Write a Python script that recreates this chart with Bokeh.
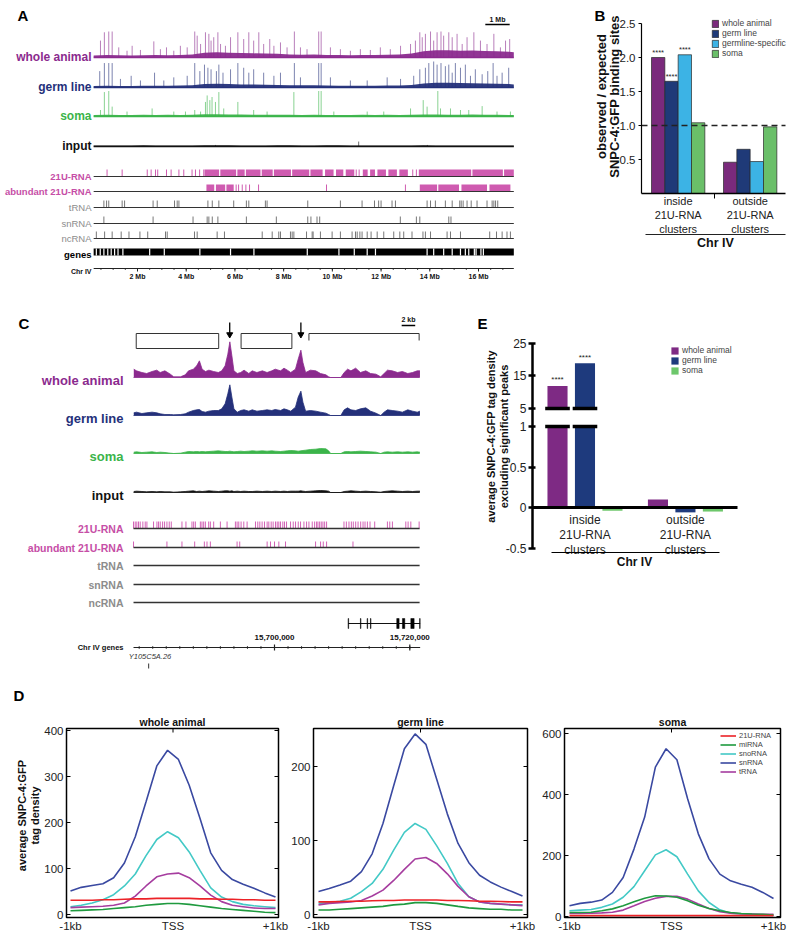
import numpy as np
from bokeh.plotting import figure
from bokeh.layouts import column, row
from bokeh.models import (Range1d, LinearAxis, FixedTicker, Legend, LegendItem,
                          NumeralTickFormatter)
from bokeh.core.properties import value
from bokeh.embed import file_html
from bokeh.resources import INLINE

FONT = "Liberation Sans"
VF = value(FONT)
VERT = np.pi / 2

# ---------------- colours ----------------
COL_WA, COL_GL, COL_SO, COL_IN = "#8b2a8e", "#24307a", "#3bb44a", "#111111"
COL_21U, COL_GRAY = "#c64ea6", "#8c8c8c"

# =====================================================================
# DATA
# =====================================================================
# ---- Panel A : Chr IV genome browser (positions in Mb, signal in % of track max)
A_CHR_START, A_CHR_END = 0.2, 17.45
A_TICKS_MB = [2, 4, 6, 8, 10, 12, 14, 16]
a_bg_mb = [0.2, 0.75, 1.25, 1.75, 2.25, 2.75, 3.25, 3.75, 4.25, 4.75, 5.25, 5.75, 6.25, 6.75,
           7.25, 7.75, 8.25, 8.75, 9.25, 9.75, 10.25, 10.75, 11.25, 11.75, 12.25, 12.75, 13.25,
           13.75, 14.25, 14.75, 15.25, 15.75, 16.25, 16.75, 17.25, 17.45]
a_wa_bg = [8, 10, 9, 8, 9, 10, 9, 10, 12, 18, 20, 18, 17, 16, 15, 14, 12, 11, 12, 10, 10, 9, 10, 10,
           11, 12, 15, 24, 28, 28, 26, 27, 25, 24, 22, 20]
a_gl_bg = [6, 7, 6, 6, 7, 7, 7, 8, 9, 13, 14, 13, 12, 12, 11, 10, 9, 9, 9, 8, 7, 7, 7, 7, 8, 8, 10,
           15, 18, 18, 17, 16, 15, 14, 13, 12]
a_so_bg = [6, 7, 6, 6, 7, 6, 7, 6, 7, 9, 9, 8, 8, 7, 7, 7, 7, 6, 7, 6, 6, 6, 7, 6, 7, 6, 7, 8, 8, 7,
           7, 8, 7, 7, 6, 6]
a_in_bg = [4, 4, 4, 4, 5, 4, 4, 4, 4, 5, 5, 5, 4, 4, 4, 5, 5, 4, 4, 5, 5, 4, 4, 4, 4, 4, 4, 5, 4, 4,
           4, 4, 4, 4, 4, 4]
a_wa_pk_mb = [0.48, 0.64, 0.82, 0.96, 1.23, 1.57, 1.78, 2.12, 2.67, 2.94, 3.19, 3.49, 3.76, 4.04,
              4.35, 4.45, 4.59, 4.79, 4.93, 5.02, 5.13, 5.30, 5.41, 5.61, 5.82, 6.12, 6.36, 6.57,
              6.77, 6.98, 7.18, 7.43, 7.60, 7.87, 8.14, 8.44, 8.69, 8.96, 9.44, 9.54, 9.92, 10.33,
              10.74, 11.15, 11.56, 11.97, 12.38, 12.80, 13.21, 13.41, 13.59, 13.69, 13.82, 14.03,
              14.16, 14.30, 14.46, 14.57, 14.78, 14.92, 15.12, 15.33, 15.53, 15.81, 16.08, 16.35,
              16.63, 16.90, 17.11, 17.28]
a_wa_pk_h = [65, 97, 100, 100, 39, 26, 45, 29, 62, 32, 39, 26, 45, 39, 100, 84, 52, 97, 91, 65,
             78, 97, 52, 45, 78, 97, 71, 97, 65, 97, 52, 71, 45, 58, 39, 100, 39, 32, 100, 100,
             39, 32, 26, 32, 29, 39, 32, 45, 52, 65, 97, 78, 91, 100, 65, 97, 100, 84, 97, 78,
             91, 52, 78, 97, 65, 52, 91, 39, 65, 71]
a_gl_pk_mb = [0.45, 0.64, 0.82, 0.96, 1.30, 1.74, 2.12, 2.70, 3.08, 3.49, 4.04, 4.35, 4.56, 4.75,
              4.89, 5.02, 5.24, 5.34, 5.51, 5.82, 6.12, 6.36, 6.57, 6.77, 7.18, 7.60, 7.87, 8.44,
              8.69, 9.44, 9.54, 9.92, 10.74, 11.43, 12.25, 12.80, 13.34, 13.59, 13.82, 13.96,
              14.16, 14.30, 14.46, 14.64, 14.78, 14.92, 15.05, 15.26, 15.46, 15.67, 15.87, 16.15,
              16.38, 16.60, 16.76, 16.97, 17.24]
a_gl_pk_h = [63, 94, 94, 94, 33, 45, 27, 57, 27, 39, 45, 94, 63, 88, 76, 70, 63, 88, 57, 70,
             94, 76, 57, 70, 57, 45, 57, 94, 39, 94, 94, 39, 27, 27, 39, 33, 45, 70, 76, 94,
             100, 88, 94, 82, 88, 57, 94, 76, 88, 45, 70, 51, 63, 94, 45, 57, 76]
a_so_pk_mb = [0.48, 0.64, 0.82, 0.96, 1.57, 2.60, 3.49, 3.97, 4.35, 4.59, 4.79, 4.86, 4.97, 5.06,
              5.20, 5.34, 5.54, 6.12, 6.77, 7.32, 8.42, 9.44, 9.54, 10.06, 11.43, 12.11, 13.21,
              13.73, 13.89, 14.33, 14.44, 14.85, 15.26, 15.60, 16.15, 16.76, 17.31]
a_so_pk_h = [25, 94, 98, 38, 19, 31, 19, 19, 25, 19, 56, 81, 63, 75, 56, 94, 31, 56, 25, 19,
             94, 98, 98, 19, 19, 19, 31, 63, 38, 98, 31, 31, 25, 25, 40, 19, 19]
a_in_pk_mb = [5.20, 11.08, 13.90]
a_in_pk_h = [6, 19, 6]
a_u21_start = [4.75, 5.40, 6.10, 6.45, 7.10, 7.60, 8.35, 9.10, 9.70, 10.15, 10.55, 11.25, 11.55,
               11.85, 12.30, 12.75, 13.55, 15.75, 17.05]
a_u21_end = [5.35, 6.05, 6.40, 7.05, 7.55, 8.30, 9.05, 9.60, 10.05, 10.45, 10.90, 11.45, 11.75,
             12.20, 12.65, 13.10, 15.70, 17.00, 17.45]
a_u21_ticks = [0.75, 1.37, 2.40, 2.56, 2.74, 2.83, 3.19, 3.38, 3.70, 3.90, 4.24, 4.38, 4.55, 4.72,
               10.98, 11.10, 13.30, 13.45]
a_ab_start = [4.83, 5.22, 5.65, 13.59, 14.35, 15.30, 16.45]
a_ab_end = [5.15, 5.60, 5.95, 14.30, 15.20, 16.35, 17.31]
a_ab_ticks = [6.05, 6.15, 6.30, 6.45, 6.60, 6.97, 9.76, 13.00]
a_trna = [0.62, 0.73, 0.82, 1.37, 1.47, 2.64, 2.81, 3.52, 3.63, 3.70, 4.89, 5.07, 5.34, 5.95,
          6.47, 6.57, 7.25, 7.32, 8.99, 10.33, 11.22, 11.73, 11.90, 12.00, 12.45, 12.59, 13.89,
          14.03, 14.23, 14.64, 14.92, 15.23, 15.29, 15.37, 15.53, 15.70, 15.94, 16.35, 16.56,
          16.63, 16.70, 16.79]
a_snrna = [0.62, 2.64, 4.28, 4.86, 4.93, 5.07, 5.30, 6.47, 7.70, 8.99, 9.12, 9.37, 9.48, 12.79,
           13.45, 13.59, 14.78, 14.87]
a_ncrna = [0.31, 0.65, 0.96, 1.33, 1.65, 2.10, 2.42, 3.15, 3.22, 4.34, 4.45, 5.27, 5.57, 7.12,
           7.53, 7.80, 7.87, 8.28, 8.35, 8.42, 8.94, 9.17, 9.21, 9.51, 9.99, 10.33, 10.81, 10.95,
           11.02, 11.13, 11.22, 11.43, 11.59, 11.84, 12.11, 12.52, 12.77, 12.93, 13.27, 13.72,
           13.82, 14.03, 14.71, 14.85, 15.26, 16.46, 16.74, 16.97, 17.17, 17.31]
a_gene_gaps = [0.31, 0.47, 0.62, 0.78, 0.92, 1.06, 1.20, 1.40, 2.50, 3.10, 4.56, 5.82, 6.78, 8.97,
               10.27, 10.90, 11.43, 11.77, 13.89, 14.16, 14.57, 14.92, 15.26, 15.46, 15.60, 15.83,
               15.90, 16.10, 16.20]

# ---- Panel B : observed / expected binding sites
B_SERIES = ["whole animal", "germ line", "germline-specific", "soma"]
B_COLORS = ["#7a2a7c", "#1f3a78", "#3cb3e5", "#6abf69"]
B_GROUPS = ["inside\n21U-RNA\nclusters", "outside\n21U-RNA\nclusters"]
b_inside = [2.00, 1.65, 2.04, 1.04]
b_outside = [0.46, 0.65, 0.47, 0.98]
b_sig_inside = ["****", "****", "****", ""]
B_YTICKS = [0.5, 1.0, 1.5, 2.0, 2.5]
B_EXPECTED = 1.0
B_YLABEL = ["observed / expected", "SNPC-4:GFP binding sites"]

# ---- Panel C : zoom 15.68-15.72 Mb (positions in kb relative to 15,700,000)
C_ORIGIN = 15_700_000
C_START, C_END = -20.84, 21.45
c_pos_kb = [-20.8, -20.4, -19.6, -18.9, -18.1, -17.4, -16.9, -16.2, -15.4, -14.9,
            -13.9, -13.2, -12.7, -12.0, -11.5, -11.1, -10.7, -10.2, -9.7, -9.0,
            -8.3, -7.8, -7.3, -6.9, -6.6, -6.3, -6.0, -5.5, -5.0, -4.5,
            -3.8, -3.3, -2.6, -1.8, -1.1, -0.4, 0.1, 0.9, 1.4, 1.9,
            2.4, 3.1, 3.5, 3.9, 4.2, 4.6, 5.3, 6.1, 6.8, 7.6,
            8.0, 8.3, 9.8, 10.3, 10.8, 11.3, 12.0, 12.7, 13.5, 14.2,
            15.0, 15.7, 16.2, 16.7, 17.4, 18.2, 18.9, 19.7, 20.4, 21.1, 21.5]
c_wa = [25, 20, 15, 12, 18, 22, 15, 20, 10, 2, 2, 8, 20, 25, 35, 50, 25, 18, 22, 18,
        15, 20, 35, 70, 107, 65, 20, 12, 15, 22, 12, 20, 15, 20, 15, 20, 25, 20, 28, 22,
        15, 25, 55, 82, 45, 15, 22, 20, 12, 8, 2, 0, 0, 15, 25, 20, 28, 15, 20, 12,
        10, 2, 12, 22, 20, 15, 18, 12, 15, 20, 20]
c_gl = [8, 10, 6, 8, 10, 8, 5, 3, 3, 2, 3, 5, 10, 15, 17, 18, 12, 10, 13, 15,
        15, 20, 35, 65, 92, 55, 20, 10, 15, 17, 13, 17, 13, 15, 17, 15, 18, 15, 20, 17,
        13, 25, 55, 73, 40, 13, 15, 13, 10, 7, 3, 0, 0, 17, 23, 17, 15, 20, 23, 13,
        7, 0, 10, 17, 15, 13, 10, 17, 13, 10, 13]
c_so = [4, 5, 3, 4, 5, 3, 4, 3, 1, 0, 1, 4, 6, 5, 6, 5, 6, 5, 6, 7,
        8, 7, 6, 6, 7, 6, 5, 6, 7, 6, 7, 8, 7, 8, 7, 8, 7, 6, 7, 8,
        9, 8, 7, 8, 9, 10, 12, 13, 15, 14, 8, 0, 0, 5, 6, 5, 6, 7, 6, 5,
        4, 0, 4, 5, 4, 5, 4, 5, 4, 5, 4]
c_in = [3, 4, 3, 2, 3, 2, 3, 2, 2, 1, 2, 3, 4, 5, 3, 4, 3, 4, 5, 4,
        3, 4, 5, 5, 4, 5, 3, 4, 3, 4, 3, 3, 4, 3, 4, 3, 4, 3, 4, 3,
        4, 4, 4, 5, 4, 3, 4, 5, 6, 5, 4, 0, 0, 3, 4, 5, 4, 3, 4, 3,
        2, 1, 3, 4, 5, 4, 3, 4, 3, 4, 4]
c_u21 = [-20.84, -20.59, -20.35, -20.10, -19.85, -19.46, -19.11, -18.86, -17.88, -17.38, -17.14,
         -16.89, -16.54, -16.25, -15.90, -15.56, -15.26, -13.68, -13.09, -12.20, -11.95, -11.70,
         -10.96, -10.72, -10.47, -10.22, -9.73, -9.48, -8.99, -8.00, -7.01, -5.78, -5.53, -5.28,
         -4.94, -4.54, -4.05, -2.81, -2.47, -2.17, -1.83, -1.48, -1.09, -0.84, -0.49, -0.20,
         0.15, 0.40, 0.64, 0.89, 1.23, 1.48, 1.78, 2.37, 2.77, 3.11, 3.51, 3.85, 4.35, 4.74,
         5.09, 5.58, 5.93, 6.22, 6.42, 6.67, 6.91, 7.16, 7.41, 7.70, 10.27, 10.62, 11.01, 11.36,
         11.65, 12.00, 12.35, 12.74, 13.09, 13.38, 13.73, 14.12, 14.81, 16.69, 17.04, 17.43,
         19.41, 19.75, 20.15, 21.38]
c_ab = [-20.84, -15.90, -13.68, -11.80, -10.37, -9.98, -9.48, -5.53, -5.14, -1.09, -0.59, 0.00,
        0.64, 1.63, 6.07, 6.81, 7.21, 7.70, 11.60]
c_clu_start = [-20.44, -4.94]
c_clu_end = [-8.25, 2.57]
c_open_clu = (5.09, 21.38)
c_peaks_kb = [-6.62, 3.90]
c_gene_span = (10.91, 21.53)
c_exon_start = [10.88, 12.70, 13.69, 14.18, 18.07, 18.91, 20.15, 21.45]
c_exon_end = [10.96, 12.78, 13.77, 14.26, 18.42, 19.26, 20.64, 21.53]
c_gene2_name, c_gene2_kb = "Y105C5A.26", -18.6
C_TICKS_KB = [0, 20]

# ---- Panel D : metagene profiles around TSS
D_X = [-1000, -895, -789, -684, -579, -474, -368, -263, -158, -53, 53, 158, 263, 368, 474, 579,
       684, 789, 895, 1000]
D_SERIES = ["21U-RNA", "miRNA", "snoRNA", "snRNA", "tRNA"]
D_COLORS = ["#ec2227", "#1f9a3f", "#43c9c6", "#3a49a1", "#a63d9f"]
d_wa_21u = [31, 31, 31, 32, 32, 33, 34, 34, 35, 35, 35, 35, 34, 34, 33, 33, 32, 32, 31, 31]
d_wa_mirna = [8, 9, 10, 11, 13, 15, 17, 20, 22, 24, 24, 22, 19, 16, 13, 11, 9, 7, 5, 4]
d_wa_snorna = [17, 20, 25, 32, 43, 62, 88, 128, 163, 180, 167, 136, 96, 58, 38, 28, 22, 19, 17, 15]
d_wa_snrna = [51, 59, 63, 67, 80, 112, 169, 245, 323, 357, 337, 281, 209, 134, 96, 76, 66, 57, 47, 38]
d_wa_trna = [15, 16, 17, 18, 20, 25, 40, 62, 82, 88, 90, 80, 62, 42, 28, 20, 17, 14, 13, 13]
d_gl_21u = [17, 17, 17.5, 18, 18, 18.5, 19, 19, 19.5, 19.5, 19.5, 19.5, 19, 19, 18.5, 18, 18, 17.5, 17, 17]
d_gl_mirna = [6, 6, 7, 8, 9, 10, 11, 13, 14, 16, 16, 15, 13, 11, 9, 8, 7, 7, 6, 6]
d_gl_snorna = [15, 16, 18, 22, 31, 42, 61, 87, 111, 123, 115, 93, 69, 42, 24, 17, 15, 14, 13, 13]
d_gl_snrna = [31, 35, 40, 45, 58, 82, 123, 174, 224, 244, 230, 183, 136, 96, 70, 53, 44, 37, 31, 25]
d_gl_trna = [13, 15, 16, 17, 19, 25, 33, 46, 61, 75, 77, 69, 55, 38, 24, 17, 15, 14, 13, 12]
d_so_21u = [3, 3, 3, 3, 3, 3, 3, 3, 3, 3, 3, 3, 3, 3, 3, 3, 3, 3, 3, 3]
d_so_mirna = [13, 13, 14, 19, 25, 35, 48, 60, 68, 67, 63, 52, 37, 26, 19, 13, 10, 8, 7, 5]
d_so_snorna = [19, 21, 23, 30, 41, 63, 98, 150, 202, 219, 196, 139, 84, 46, 22, 11, 8, 7, 5, 4]
d_so_snrna = [35, 43, 47, 54, 79, 128, 221, 326, 490, 550, 514, 386, 271, 189, 139, 117, 106, 96, 79, 59]
d_so_trna = [10, 10, 11, 12, 14, 21, 35, 49, 60, 66, 66, 57, 41, 26, 16, 11, 9, 8, 7, 7]
D_XTICKS = [-1000, 0, 1000]
D_XLABELS = ["-1kb", "TSS", "+1kb"]
D_YLABEL = ["average SNPC-4:GFP", "tag density"]

# ---- Panel E : average tag density excluding significant peaks
E_SERIES = ["whole animal", "germ line", "soma"]
E_COLORS = ["#7e2a84", "#1e3a7d", "#6dc76b"]
E_GROUPS = ["inside\n21U-RNA\nclusters", "outside\n21U-RNA\nclusters"]
e_inside = [11.9, 18.9, -0.04]
e_outside = [0.10, -0.06, -0.05]
e_sig_inside = ["****", "****", ""]
E_YTICKS = [-0.5, 0, 0.5, 1, 5, 15, 25]
E_YLABEL = ["average SNPC-4:GFP tag density", "excluding significant peaks"]


# =====================================================================
# helpers
# =====================================================================
class PX:
    """Linear map between page pixels and a panel's data units (layout only)."""

    def __init__(self, ox, oy, w, h, xa, xb, ya, yb):
        self.ox, self.oy, self.w, self.h = ox, oy, w, h
        self.kx = (xb[1] - xa[1]) / (xb[0] - xa[0])
        self.x0 = xa[1] - self.kx * xa[0]
        self.ky = (yb[1] - ya[1]) / (yb[0] - ya[0])
        self.y0 = ya[1] - self.ky * ya[0]

    def x(self, px):
        return self.x0 + self.kx * px

    def y(self, py):
        return self.y0 + self.ky * py

    def dx(self, npx):
        return abs(self.kx) * npx

    def dy(self, npx):
        return abs(self.ky) * npx

    def fig(self):
        p = figure(width=self.w, height=self.h,
                   x_range=Range1d(self.x(self.ox), self.x(self.ox + self.w)),
                   y_range=Range1d(self.y(self.oy + self.h), self.y(self.oy)),
                   toolbar_location=None, output_backend="svg",
                   x_axis_location=None, y_axis_location=None,
                   min_border_left=0, min_border_right=0, min_border_top=0,
                   min_border_bottom=0)
        p.grid.visible = False
        p.outline_line_color = None
        p.background_fill_color = "white"
        p.border_fill_color = "white"
        return p


def txt(p, x, y, s, size, color="#000000", style="normal", align="left",
        baseline="middle", line_height=1.2, angle=0):
    xs = x if isinstance(x, list) else [x]
    ys = y if isinstance(y, list) else [y] * len(xs)
    ss = s if isinstance(s, list) else [s] * len(xs)
    p.text(x=xs, y=ys, text=ss, text_font=VF, text_font_size=size, text_font_style=style,
           text_color=color, text_align=align, text_baseline=baseline,
           text_line_height=line_height, angle=angle)


def style_axis(ax, size="11px", color="#222222"):
    ax.major_label_text_font = FONT
    ax.major_label_text_font_size = size
    ax.major_label_text_color = color
    ax.minor_tick_in = ax.minor_tick_out = 0


def style_legend(lg, size, gw, gh, loc):
    lg.location = loc
    lg.label_text_font = FONT
    lg.label_text_font_size = size
    lg.glyph_width, lg.glyph_height, lg.label_height = gw, gh, gh
    lg.spacing, lg.padding, lg.margin, lg.label_standoff = 0, 0, 0, 3
    lg.border_line_color = None
    lg.background_fill_alpha = 0


def letter(p, x, y, s):
    txt(p, x, y, s, "15px", "#000", "bold", "left", "middle")


def vlabel(p, m, xs_px, y_px, lines, size):
    txt(p, [m.x(x) for x in xs_px], m.y(y_px), lines, size, "#111", "bold", "center",
        "middle", angle=VERT)


# =====================================================================
# Panel A
# =====================================================================
mA = PX(0, 0, 583, 290, (137, 2), (478, 16), (0, 0), (290, 290))
pA = mA.fig()
A_SIG = 0.26                       # px per signal unit
A_LBL_X = mA.x(91)

tracks = [(57, a_wa_bg, a_wa_pk_mb, a_wa_pk_h, COL_WA, "whole animal"),
          (87, a_gl_bg, a_gl_pk_mb, a_gl_pk_h, COL_GL, "germ line"),
          (116, a_so_bg, a_so_pk_mb, a_so_pk_h, COL_SO, "soma"),
          (146, a_in_bg, a_in_pk_mb, a_in_pk_h, COL_IN, "input")]
for base, bg, pkx, pkh, col, name in tracks:
    pA.varea(x=a_bg_mb, y1=[base] * len(a_bg_mb), y2=[base - v * A_SIG for v in bg],
             fill_color=col, fill_alpha=0.95)
    pA.segment(x0=pkx, y0=[base] * len(pkx), x1=pkx, y1=[base - h * A_SIG for h in pkh],
               line_color=col, line_width=1, line_alpha=0.6)
    pA.segment(x0=[A_CHR_START], y0=[base], x1=[A_CHR_END], y1=[base], line_color=col,
               line_width=1.3)
    txt(pA, A_LBL_X, base - 1, name, "12px", col, "bold", "right", "alphabetic")


def a_row(y, color, starts=None, ends=None, ticks=None, label="", lcolor="#000",
          lstyle="normal"):
    if starts:
        pA.quad(left=starts, right=ends, bottom=[y] * len(starts), top=[y - 7] * len(starts),
                fill_color=color, line_color=None)
    if ticks:
        pA.segment(x0=ticks, y0=[y] * len(ticks), x1=ticks, y1=[y - 7] * len(ticks),
                   line_color=color, line_width=1)
    pA.segment(x0=[A_CHR_START], y0=[y], x1=[A_CHR_END], y1=[y], line_color="#333333",
               line_width=1.2)
    txt(pA, A_LBL_X, y, label, "9.5px", lcolor, lstyle, "right", "alphabetic")


a_row(176, "#cf5bb0", a_u21_start, a_u21_end, a_u21_ticks, "21U-RNA", COL_21U, "bold")
a_row(191, "#cf5bb0", a_ab_start, a_ab_end, a_ab_ticks, "abundant 21U-RNA", COL_21U, "bold")
a_row(207, "#777777", ticks=a_trna, label="tRNA", lcolor=COL_GRAY)
a_row(223, "#777777", ticks=a_snrna, label="snRNA", lcolor=COL_GRAY)
a_row(238, "#777777", ticks=a_ncrna, label="ncRNA", lcolor=COL_GRAY)
pA.quad(left=[A_CHR_START], right=[A_CHR_END], bottom=[255], top=[248], fill_color="black",
        line_color=None)
pA.segment(x0=a_gene_gaps, y0=[255] * len(a_gene_gaps), x1=a_gene_gaps,
           y1=[248] * len(a_gene_gaps), line_color="white", line_width=1.2)
txt(pA, A_LBL_X, 254, "genes", "9.5px", "#000", "bold", "right", "alphabetic")
A_AX_Y = 268
pA.segment(x0=[A_CHR_START], y0=[A_AX_Y], x1=[A_CHR_END], y1=[A_AX_Y], line_color="#222222",
           line_width=1)
a_minor = [m * 0.5 for m in range(1, 35)]
pA.segment(x0=a_minor, y0=[A_AX_Y] * len(a_minor), x1=a_minor, y1=[A_AX_Y + 1.5] * len(a_minor),
           line_color="#222222", line_width=0.8)
pA.segment(x0=A_TICKS_MB, y0=[A_AX_Y] * 8, x1=A_TICKS_MB, y1=[A_AX_Y + 3] * 8,
           line_color="#222222", line_width=1)
txt(pA, A_TICKS_MB, 276, [f"{t} Mb" for t in A_TICKS_MB], "7px", "#111", "bold", "center",
    "middle")
txt(pA, A_LBL_X, 271, "Chr IV", "7px", "#111", "bold", "right", "alphabetic")
pA.segment(x0=[16.28], y0=[24], x1=[17.28], y1=[24], line_color="black", line_width=1.5)
txt(pA, 16.78, 19, "1 Mb", "7px", "#111", "bold", "center", "middle")
letter(pA, mA.x(17), 15, "A")

# =====================================================================
# Panel B
# =====================================================================
mB = PX(583, 0, 216, 290, (641, 0), (785, 10.8), (193, 0), (23, 2.5))
pB = mB.fig()
B_GROUP_X0 = [1.25, 6.65]
for i, (name, col) in enumerate(zip(B_SERIES, B_COLORS)):
    xs = [B_GROUP_X0[0] + i, B_GROUP_X0[1] + i]
    pB.vbar(x=xs, top=[b_inside[i], b_outside[i]], bottom=0, width=1.0, fill_color=col,
            line_color="#2a2a2a", line_width=0.7, legend_label=name)
sig_x = [B_GROUP_X0[0] + i for i in range(4) if b_sig_inside[i]]
sig_y = [b_inside[i] + 0.01 for i in range(4) if b_sig_inside[i]]
txt(pB, sig_x, sig_y, "****", "7.5px", "#222", "normal", "center", "bottom")
pB.segment(x0=[0], y0=[B_EXPECTED], x1=[10.8], y1=[B_EXPECTED], line_color="#222222",
           line_dash="6 4", line_width=1.4)
yax = LinearAxis(fixed_location=0, ticker=FixedTicker(ticks=B_YTICKS),
                 formatter=NumeralTickFormatter(format="0.0"), bounds=(0, 2.5))
style_axis(yax, "11.5px")
yax.major_tick_in, yax.major_tick_out = 0, 3
yax.major_label_standoff = 3
yax.axis_line_width = 1.2
pB.add_layout(yax, "left")
vlabel(pB, mB, [601, 614], 96, B_YLABEL, "13px")
b_centers = [B_GROUP_X0[0] + 1.5, B_GROUP_X0[1] + 1.5]
xax1 = LinearAxis(fixed_location=0, bounds=(0, 10.8),
                  ticker=FixedTicker(ticks=b_centers, minor_ticks=[mB.x(714)]),
                  major_label_overrides={b_centers[0]: "", b_centers[1]: ""})
style_axis(xax1, "11px")
xax1.major_tick_in, xax1.major_tick_out = 0, 0
xax1.minor_tick_in, xax1.minor_tick_out = 0, 5
xax1.axis_line_width = 1.5
pB.add_layout(xax1, "below")
txt(pB, b_centers, mB.y(194), B_GROUPS, "11px", "#222", "normal", "center", "top", 1.2)
pB.segment(x0=[mB.x(645)], y0=[mB.y(234)], x1=[mB.x(785)], y1=[mB.y(234)], line_color="#222",
           line_width=1.2)
txt(pB, mB.x(715), mB.y(242), "Chr IV", "12.5px", "#111", "bold", "center", "middle")
style_legend(pB.legend[0], "8.5px", 8, 9, (711 - 583, 290 - 58))
letter(pB, mB.x(594), mB.y(15), "B")

# =====================================================================
# Panel C
# =====================================================================
mC = PX(0, 290, 455, 380, (274, 0), (409.3, 20), (290, 290), (670, 670))
pC = mC.fig()
C_SIG = 1 / 3
C_LBL_X = mC.x(123)
for base, vals, col, name in [(377, c_wa, COL_WA, "whole animal"), (415, c_gl, COL_GL, "germ line"),
                              (453, c_so, COL_SO, "soma"), (492, c_in, COL_IN, "input")]:
    top = [base - v * C_SIG for v in vals]
    pC.varea(x=c_pos_kb, y1=[base] * len(c_pos_kb), y2=top, fill_color=col)
    pC.line(x=c_pos_kb, y=top, line_color=col, line_width=0.8)
    pC.segment(x0=[C_START], y0=[base], x1=[C_END], y1=[base], line_color=col, line_width=0.8)
    txt(pC, C_LBL_X, base + 3, name, "13px", col, "bold", "right", "alphabetic")


def c_row(y, ticks, label, lcolor, th=7):
    if ticks:
        pC.segment(x0=ticks, y0=[y] * len(ticks), x1=ticks, y1=[y - th] * len(ticks),
                   line_color="#d363b6", line_width=1)
    pC.segment(x0=[C_START], y0=[y], x1=[C_END], y1=[y], line_color="#333333", line_width=1.5)
    txt(pC, C_LBL_X, y, label, "10.5px", lcolor, "bold", "right", "alphabetic")


c_row(528, c_u21, "21U-RNA", COL_21U)
c_row(547, c_ab, "abundant 21U-RNA", COL_21U, 6)
c_row(565, None, "tRNA", COL_GRAY)
c_row(584, None, "snRNA", COL_GRAY)
c_row(602, None, "ncRNA", COL_GRAY)
pC.quad(left=c_clu_start, right=c_clu_end, top=[333] * 2, bottom=[348] * 2, fill_color=None,
        line_color="#333333", line_width=1)
pC.segment(x0=[c_open_clu[0]], y0=[333], x1=[c_open_clu[1]], y1=[333], line_color="#333333",
           line_width=1)
pC.segment(x0=list(c_open_clu), y0=[333, 333], x1=list(c_open_clu), y1=[340, 340],
           line_color="#333333", line_width=1)
pC.segment(x0=c_peaks_kb, y0=[322] * 2, x1=c_peaks_kb, y1=[333] * 2, line_color="black",
           line_width=1.3)
pC.scatter(x=c_peaks_kb, y=[334] * 2, marker="inverted_triangle", size=6, fill_color="black",
           line_color="black")
pC.segment(x0=[18.8], y0=[325], x1=[20.8], y1=[325], line_color="black", line_width=1.5)
txt(pC, 19.8, 319, "2 kb", "7px", "#111", "bold", "center", "middle")
pC.segment(x0=[c_gene_span[0]], y0=[623], x1=[c_gene_span[1]], y1=[623], line_color="#111",
           line_width=1)
pC.quad(left=c_exon_start, right=c_exon_end, top=[618] * len(c_exon_start),
        bottom=[628] * len(c_exon_start), fill_color="black", line_color="black", line_width=0.5)
C_AX_Y = 647
pC.segment(x0=[C_START], y0=[C_AX_Y], x1=[c_gene_span[1]], y1=[C_AX_Y], line_color="#222",
           line_width=1.2)
c_minor = list(range(-20, 22, 2))
pC.segment(x0=c_minor, y0=[C_AX_Y - 1.5] * len(c_minor), x1=c_minor,
           y1=[C_AX_Y + 1.5] * len(c_minor), line_color="#222", line_width=0.8)
pC.segment(x0=C_TICKS_KB, y0=[C_AX_Y - 3] * 2, x1=C_TICKS_KB, y1=[C_AX_Y + 3] * 2,
           line_color="#222", line_width=1.2)
txt(pC, C_TICKS_KB, 637, [f"{C_ORIGIN + t * 1000:,}" for t in C_TICKS_KB], "8px", "#111",
    "bold", "center", "middle")
txt(pC, C_LBL_X, 647, "Chr IV genes", "7.5px", "#111", "bold", "right", "alphabetic")
txt(pC, c_gene2_kb + 0.2, 656, c_gene2_name, "7.5px", "#333", "italic", "center", "middle")
pC.segment(x0=[c_gene2_kb], y0=[663], x1=[c_gene2_kb], y1=[668], line_color="#333",
           line_width=1)
letter(pC, mC.x(18), 323, "C")

# =====================================================================
# Panel E (broken y axis: 0..1 linear, 5..25 compressed)
# =====================================================================
E_GAP, E_UP = 0.222, 0.04015


def e_disp(v):
    if v <= 1:
        return v
    return round(1 + E_GAP + (v - 5) * E_UP, 4)


mE = PX(455, 290, 344, 380, (532, 0), (737, 10), (507, 0), (426, 1))
pE = mE.fig()
E_GROUP_X0 = [1.22, 6.12]
E_STEP = 1.34
for i, (name, col) in enumerate(zip(E_SERIES, E_COLORS)):
    xs, bots, tops = [], [], []
    for g, vals in enumerate([e_inside, e_outside]):
        v = vals[i]
        xc = E_GROUP_X0[g] + i * E_STEP
        if v > 5:
            xs += [xc, xc]
            bots += [0, e_disp(5)]
            tops += [1, e_disp(v)]
        else:
            xs.append(xc)
            bots.append(0)
            tops.append(v)
    pE.vbar(x=xs, bottom=bots, top=tops, width=0.98, fill_color=col, line_color=None,
            legend_label=name)
brk_x = [E_GROUP_X0[0] + i * E_STEP for i in range(3) if e_inside[i] > 5]
for yb in (e_disp(5), 1):
    pE.segment(x0=[x - 0.6 for x in brk_x], y0=[yb] * len(brk_x), x1=[x + 0.6 for x in brk_x],
               y1=[yb] * len(brk_x), line_color="black", line_width=3.5)
sx = [E_GROUP_X0[0] + i * E_STEP for i in range(3) if e_sig_inside[i]]
sy = [e_disp(e_inside[i]) + 0.02 for i in range(3) if e_sig_inside[i]]
txt(pE, sx, sy, "****", "8px", "#222", "normal", "center", "bottom")
pE.segment(x0=[0], y0=[0], x1=[10], y1=[0], line_color="black", line_width=3)
e_centers = [E_GROUP_X0[0] + E_STEP, E_GROUP_X0[1] + E_STEP]
txt(pE, e_centers, mE.y(512), E_GROUPS, "12px", "#222", "normal", "center", "top", 1.1)
e_ticks = [e_disp(t) for t in E_YTICKS]
eyax = LinearAxis(fixed_location=0, ticker=FixedTicker(ticks=e_ticks),
                  major_label_overrides={d: str(t) for d, t in zip(e_ticks, E_YTICKS)},
                  bounds=(-0.5, e_disp(25)))
style_axis(eyax, "12px")
eyax.major_tick_in, eyax.major_tick_out = 3, 4
eyax.major_tick_line_width = 2.5
eyax.axis_line_width = 2.5
eyax.major_label_standoff = 2
pE.add_layout(eyax, "left")
vlabel(pE, mE, [490, 503], 436, E_YLABEL, "11px")
exax = LinearAxis(fixed_location=mE.y(552), ticker=FixedTicker(ticks=[]),
                  bounds=(mE.x(551), mE.x(719)))
style_axis(exax, "11px")
exax.axis_line_width = 1.2
exax.major_tick_in = exax.major_tick_out = 0
pE.add_layout(exax, "below")
txt(pE, mE.x(634), mE.y(561), "Chr IV", "12px", "#111", "bold", "center", "middle")
style_legend(pE.legend[0], "8.5px", 9, 9, (670 - 455, 670 - 375))
letter(pE, mE.x(477), mE.y(323), "E")


# =====================================================================
# Panel D
# =====================================================================
def make_d(m, box, title, yticks, series):
    p = m.fig()
    bl, br, bt, bb = m.x(box[0]), m.x(box[1]), m.y(box[2]), m.y(box[3])
    rends = {}
    for name in ["snRNA", "snoRNA", "tRNA", "miRNA", "21U-RNA"]:
        col = D_COLORS[D_SERIES.index(name)]
        rends[name] = p.line(x=D_X, y=series[name], line_color=col, line_width=1.6)
    p.quad(left=[bl], right=[br], bottom=[bb], top=[bt], fill_color=None, line_color="black",
           line_width=1.5)
    p.segment(x0=[br] * len(yticks), y0=yticks, x1=[br - m.dx(4)] * len(yticks), y1=yticks,
              line_color="black", line_width=1)
    p.segment(x0=[0], y0=[bt], x1=[0], y1=[bt - m.dy(4)], line_color="black", line_width=1)
    txt(p, (bl + br) / 2, m.y(721), title, "10.5px", "#111", "bold", "center", "middle")
    la = LinearAxis(fixed_location=bl, ticker=FixedTicker(ticks=yticks), bounds=(bb, bt))
    style_axis(la, "11.5px")
    la.major_tick_in, la.major_tick_out = 4, 0
    la.axis_line_color = None
    la.major_label_standoff = 3
    p.add_layout(la, "left")
    ba = LinearAxis(fixed_location=bb, ticker=FixedTicker(ticks=D_XTICKS), bounds=(bl, br),
                    major_label_overrides=dict(zip(D_XTICKS, D_XLABELS)))
    style_axis(ba, "11.5px")
    ba.major_tick_in = ba.major_tick_out = 0
    ba.axis_line_color = None
    ba.major_label_standoff = 2
    p.add_layout(ba, "below")
    return p, rends


mD1 = PX(0, 670, 290, 268, (70, -1000), (275, 1000), (914, 0), (730, 400))
mD2 = PX(290, 670, 250, 268, (318, -1000), (522, 1000), (914, 0), (766, 200))
mD3 = PX(540, 670, 259, 268, (569, -1000), (773, 1000), (916, 0), (733, 600))
pD1, _ = make_d(mD1, (66, 278, 728, 917), "whole animal", [0, 100, 200, 300, 400],
                {"21U-RNA": d_wa_21u, "miRNA": d_wa_mirna, "snoRNA": d_wa_snorna,
                 "snRNA": d_wa_snrna, "tRNA": d_wa_trna})
vlabel(pD1, mD1, [21, 34], 815, D_YLABEL, "11px")
pD2, _ = make_d(mD2, (313, 527, 728, 917), "germ line", [0, 100, 200],
                {"21U-RNA": d_gl_21u, "miRNA": d_gl_mirna, "snoRNA": d_gl_snorna,
                 "snRNA": d_gl_snrna, "tRNA": d_gl_trna})
pD3, rD3 = make_d(mD3, (564, 780, 728, 917), "soma", [0, 200, 400, 600],
                  {"21U-RNA": d_so_21u, "miRNA": d_so_mirna, "snoRNA": d_so_snorna,
                   "snRNA": d_so_snrna, "tRNA": d_so_trna})
lgD = Legend(items=[LegendItem(label=n, renderers=[rD3[n]]) for n in D_SERIES])
style_legend(lgD, "7.5px", 16, 7, (720 - 540, 938 - 776))
pD3.add_layout(lgD)
letter(pD1, mD1.x(13), mD1.y(695), "D")

layout = column(row(pA, pB), row(pC, pE), row(pD1, pD2, pD3))
open("out.html", "w").write(file_html(layout, INLINE))
